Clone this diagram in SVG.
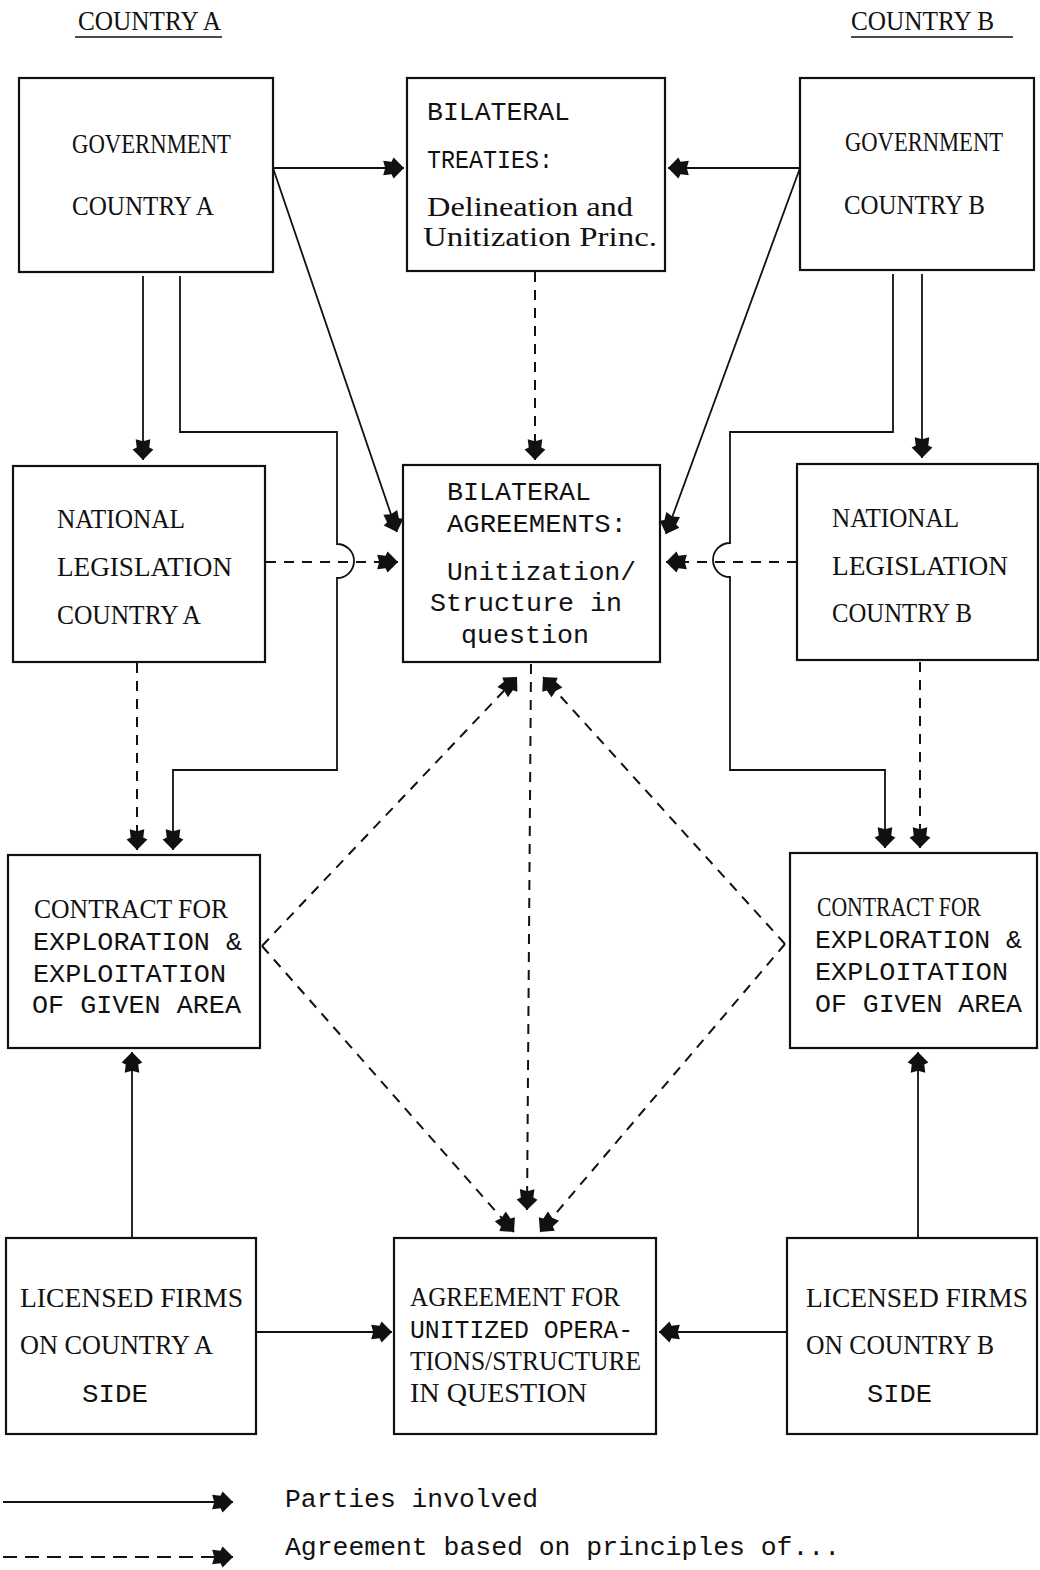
<svg xmlns="http://www.w3.org/2000/svg" width="1040" height="1570" viewBox="0 0 1040 1570">
<style>
.box{fill:#fff;stroke:#111;stroke-width:2.2}
.t{font-family:"Liberation Serif","Times New Roman",serif;font-size:28px;fill:#111}
.m{font-family:"Liberation Mono","Courier New",monospace;font-size:26px;fill:#111}
.s{fill:none;stroke:#111;stroke-width:1.8}
.d{fill:none;stroke:#111;stroke-width:2;stroke-dasharray:10 8}
</style>
<defs>
<marker id="ah" viewBox="-12 -12 24 24" refX="11" refY="0" markerWidth="25" markerHeight="25" markerUnits="userSpaceOnUse" orient="auto">
<path d="M11,0 L1,-10 L-1,-6 L-9,-7 L-7,0 L-9,7 L-1,6 L1,10 Z" fill="#111"/>
</marker>
</defs>
<rect width="1040" height="1570" fill="#fff"/>

<g id="headers">
<text class="t" x="78" y="30" textLength="143" lengthAdjust="spacingAndGlyphs">COUNTRY  A</text>
<line x1="75" y1="37" x2="222" y2="37" stroke="#111" stroke-width="1.5"/>
<text class="t" x="851" y="30" textLength="143" lengthAdjust="spacingAndGlyphs">COUNTRY  B</text>
<line x1="851" y1="37" x2="1013" y2="37" stroke="#111" stroke-width="1.5"/>
</g>

<g id="connectors">
<line class="s" x1="273" y1="168" x2="404" y2="168" marker-end="url(#ah)"/>
<line class="s" x1="800" y1="168" x2="668" y2="168" marker-end="url(#ah)"/>
<line class="s" x1="273" y1="168" x2="397" y2="532" marker-end="url(#ah)"/>
<line class="s" x1="800" y1="168" x2="666" y2="534" marker-end="url(#ah)"/>
<line class="d" x1="535" y1="272" x2="535" y2="460" marker-end="url(#ah)"/>
<line class="s" x1="143" y1="276" x2="143" y2="460" marker-end="url(#ah)"/>
<path class="s" d="M180,276 V432 H337 V544 A17,17 0 0 1 337,578 V770 H173 V850" marker-end="url(#ah)"/>
<line class="d" x1="266" y1="562" x2="398" y2="562" marker-end="url(#ah)"/>
<line class="d" x1="137" y1="663" x2="137" y2="850" marker-end="url(#ah)"/>
<line class="s" x1="922" y1="274" x2="922" y2="458" marker-end="url(#ah)"/>
<path class="s" d="M893,274 V432 H730 V543 A17,17 0 0 0 730,577 V770 H885 V848" marker-end="url(#ah)"/>
<line class="d" x1="797" y1="562" x2="666" y2="562" marker-end="url(#ah)"/>
<line class="d" x1="920" y1="662" x2="920" y2="848" marker-end="url(#ah)"/>
<line class="d" x1="262" y1="946" x2="517" y2="677" marker-end="url(#ah)"/>
<line class="d" x1="785" y1="944" x2="543" y2="677" marker-end="url(#ah)"/>
<line class="d" x1="262" y1="946" x2="514" y2="1232" marker-end="url(#ah)"/>
<line class="d" x1="785" y1="944" x2="540" y2="1232" marker-end="url(#ah)"/>
<line class="d" x1="531" y1="664" x2="527" y2="1210" marker-end="url(#ah)"/>
<line class="s" x1="132" y1="1238" x2="132" y2="1052" marker-end="url(#ah)"/>
<line class="s" x1="918" y1="1238" x2="918" y2="1052" marker-end="url(#ah)"/>
<line class="s" x1="256" y1="1332" x2="392" y2="1332" marker-end="url(#ah)"/>
<line class="s" x1="787" y1="1332" x2="659" y2="1332" marker-end="url(#ah)"/>
</g>

<g id="gov-a">
<rect class="box" x="19" y="78" width="254" height="194"/>
<text class="t" x="72" y="153" textLength="159" lengthAdjust="spacingAndGlyphs">GOVERNMENT</text>
<text class="t" x="72" y="215" textLength="142" lengthAdjust="spacingAndGlyphs">COUNTRY  A</text>
</g>

<g id="treaties">
<rect class="box" x="407" y="78" width="258" height="193"/>
<text class="m" x="427" y="120" textLength="143" lengthAdjust="spacingAndGlyphs">BILATERAL</text>
<text class="m" x="427" y="168" textLength="126" lengthAdjust="spacingAndGlyphs">TREATIES:</text>
<text class="t" x="427" y="216" font-size="26" textLength="206" lengthAdjust="spacingAndGlyphs">Delineation and</text>
<text class="t" x="423" y="246" font-size="26" textLength="234" lengthAdjust="spacingAndGlyphs">Unitization Princ.</text>
</g>

<g id="gov-b">
<rect class="box" x="800" y="78" width="234" height="192"/>
<text class="t" x="845" y="151" textLength="158" lengthAdjust="spacingAndGlyphs">GOVERNMENT</text>
<text class="t" x="844" y="214" textLength="141" lengthAdjust="spacingAndGlyphs">COUNTRY  B</text>
</g>

<g id="natleg-a">
<rect class="box" x="13" y="466" width="252" height="196"/>
<text class="t" x="57" y="528" textLength="128" lengthAdjust="spacingAndGlyphs">NATIONAL</text>
<text class="t" x="57" y="576" textLength="175" lengthAdjust="spacingAndGlyphs">LEGISLATION</text>
<text class="t" x="57" y="624" textLength="144" lengthAdjust="spacingAndGlyphs">COUNTRY  A</text>
</g>

<g id="agreements">
<rect class="box" x="403" y="465" width="257" height="197"/>
<text class="m" x="447" y="500" textLength="144" lengthAdjust="spacingAndGlyphs">BILATERAL</text>
<text class="m" x="447" y="532" textLength="180" lengthAdjust="spacingAndGlyphs">AGREEMENTS:</text>
<text class="m" x="447" y="580" textLength="189" lengthAdjust="spacingAndGlyphs">Unitization/</text>
<text class="m" x="430" y="611" textLength="192" lengthAdjust="spacingAndGlyphs">Structure in</text>
<text class="m" x="461" y="643" textLength="128" lengthAdjust="spacingAndGlyphs">question</text>
</g>

<g id="natleg-b">
<rect class="box" x="797" y="464" width="241" height="196"/>
<text class="t" x="832" y="527" textLength="127" lengthAdjust="spacingAndGlyphs">NATIONAL</text>
<text class="t" x="832" y="575" textLength="176" lengthAdjust="spacingAndGlyphs">LEGISLATION</text>
<text class="t" x="832" y="622" textLength="140" lengthAdjust="spacingAndGlyphs">COUNTRY  B</text>
</g>

<g id="contract-a">
<rect class="box" x="8" y="855" width="252" height="193"/>
<text class="t" x="34" y="918" textLength="194" lengthAdjust="spacingAndGlyphs">CONTRACT  FOR</text>
<text class="m" x="33" y="950" textLength="209" lengthAdjust="spacingAndGlyphs">EXPLORATION &amp;</text>
<text class="m" x="33" y="982" textLength="193" lengthAdjust="spacingAndGlyphs">EXPLOITATION</text>
<text class="m" x="32" y="1013" textLength="209" lengthAdjust="spacingAndGlyphs">OF GIVEN AREA</text>
</g>

<g id="contract-b">
<rect class="box" x="790" y="853" width="247" height="195"/>
<text class="t" x="817" y="916" textLength="164" lengthAdjust="spacingAndGlyphs">CONTRACT  FOR</text>
<text class="m" x="815" y="948" textLength="207" lengthAdjust="spacingAndGlyphs">EXPLORATION &amp;</text>
<text class="m" x="815" y="980" textLength="193" lengthAdjust="spacingAndGlyphs">EXPLOITATION</text>
<text class="m" x="815" y="1012" textLength="207" lengthAdjust="spacingAndGlyphs">OF GIVEN AREA</text>
</g>

<g id="licensed-a">
<rect class="box" x="6" y="1238" width="250" height="196"/>
<text class="t" x="20" y="1307" textLength="223" lengthAdjust="spacingAndGlyphs">LICENSED FIRMS</text>
<text class="t" x="20" y="1354" textLength="193" lengthAdjust="spacingAndGlyphs">ON  COUNTRY  A</text>
<text class="m" x="82" y="1402" textLength="66" lengthAdjust="spacingAndGlyphs">SIDE</text>
</g>

<g id="agreement-ops">
<rect class="box" x="394" y="1238" width="262" height="196"/>
<text class="t" x="410" y="1306" textLength="210" lengthAdjust="spacingAndGlyphs">AGREEMENT  FOR</text>
<text class="m" x="410" y="1338" textLength="223" lengthAdjust="spacingAndGlyphs">UNITIZED OPERA-</text>
<text class="t" x="410" y="1370" textLength="231" lengthAdjust="spacingAndGlyphs">TIONS/STRUCTURE</text>
<text class="t" x="410" y="1402" textLength="177" lengthAdjust="spacingAndGlyphs">IN  QUESTION</text>
</g>

<g id="licensed-b">
<rect class="box" x="787" y="1238" width="250" height="196"/>
<text class="t" x="806" y="1307" textLength="222" lengthAdjust="spacingAndGlyphs">LICENSED FIRMS</text>
<text class="t" x="806" y="1354" textLength="188" lengthAdjust="spacingAndGlyphs">ON  COUNTRY  B</text>
<text class="m" x="867" y="1402" textLength="65" lengthAdjust="spacingAndGlyphs">SIDE</text>
</g>

<g id="legend">
<line class="s" x1="3" y1="1502" x2="233" y2="1502" marker-end="url(#ah)"/>
<text class="m" x="285" y="1507" textLength="253" lengthAdjust="spacingAndGlyphs">Parties involved</text>
<line x1="3" y1="1557" x2="233" y2="1557" stroke="#111" stroke-width="2" stroke-dasharray="14 8" marker-end="url(#ah)"/>
<text class="m" x="285" y="1555" textLength="555" lengthAdjust="spacingAndGlyphs">Agreement based on principles of...</text>
</g>
</svg>
